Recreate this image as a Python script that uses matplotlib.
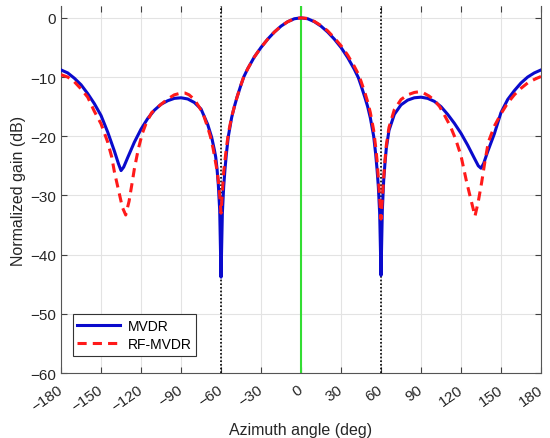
# -*- coding: utf-8 -*-
"""
MVDR vs RF-MVDR beampattern (normalized gain vs azimuth)
"""
import matplotlib
matplotlib.use("Agg")
import matplotlib.pyplot as plt

# ==============================================================================
# Data
# ==============================================================================
mvdr_angle = [-180, -175, -170, -165, -160, -155, -150, -145, -140, -137, -135, -133,
              -130, -125, -120, -115, -110, -105, -100, -95, -90, -85, -80, -75,
              -70, -67, -65, -64, -63, -62, -61, -60, -59, -58, -57, -56, -54.5,
              -52, -50, -48, -45, -43, -40, -35, -30, -25, -20, -15, -10, -5, 0,
              5, 10, 15, 20, 25, 30, 35, 40, 43, 45, 48, 50, 52, 54.5, 56, 57,
              58, 59, 60, 61, 62, 63, 64, 66, 70, 75, 80, 85, 90, 95, 100, 105,
              110, 115, 120, 125, 130, 133, 135, 137, 140, 145, 150, 155, 160,
              165, 170, 175, 180]
mvdr_gain = [-8.8, -9.3, -10.2, -11.3, -12.8, -14.5, -16.5, -19.3, -22.5, -24.6, -25.8, -25.2,
             -23.6, -21.0, -18.8, -17.0, -15.6, -14.6, -14.0, -13.6, -13.5, -13.7, -14.3, -15.4,
             -18.0, -20.2, -22.3, -23.5, -25.5, -28.3, -32.5, -43.8, -33.0, -28.5, -25.5, -23.0, -20.0,
             -16.8, -15.0, -13.4, -11.3, -10.0, -8.6, -6.6, -5.0, -3.6, -2.4, -1.4, -0.65, -0.15, 0.0,
             -0.15, -0.65, -1.4, -2.4, -3.6, -5.0, -6.7, -8.7, -10.1, -11.4, -13.5, -15.0, -16.9, -20.0, -23.0, -25.5,
             -28.5, -33.0, -43.5, -32.5, -27.5, -24.5, -22.0, -19.0, -16.3, -14.7, -13.9, -13.5, -13.4, -13.6, -14.1, -15.0,
             -16.3, -17.8, -19.5, -21.5, -23.7, -25.0, -25.4, -24.6, -22.6, -19.6, -16.0, -13.8, -12.3,
             -11.0, -10.0, -9.3, -8.8]

rf_angle = [-180, -175, -170, -165, -160, -155, -150, -145, -142, -140, -137, -134,
            -131.5, -129, -127, -125, -122, -119, -116, -112, -106, -100, -95, -90,
            -87, -84, -80, -76, -73, -70, -68, -66, -64, -63, -62, -61, -60, -59,
            -58, -57, -56, -54.5, -52, -50, -48, -45, -43, -40, -35, -30, -25, -20,
            -15, -10, -5, 0, 5, 10, 15, 20, 25, 30, 35, 40, 43, 45, 48, 50, 52,
            54.5, 56, 57, 58, 59, 60, 61, 62, 63, 64, 66, 70, 75, 80, 85, 88, 92,
            96, 100, 104, 108, 112, 116, 120, 124, 127, 130.5, 133, 135.5, 138,
            140.5, 145, 150, 155, 160, 165, 170, 175, 180]
rf_gain = [-9.6, -10.0, -10.8, -12.0, -13.4, -15.8, -17.9, -21.0, -23.5, -26.0, -29.0, -32.0,
           -33.3, -31.0, -28.3, -25.5, -22.1, -19.5, -17.7, -16.0, -14.8, -13.7, -13.0, -12.7,
           -12.7, -13.0, -13.8, -15.2, -16.5, -18.5, -20.0, -22.0, -24.5, -25.8, -27.5, -30.0, -33.0, -29.5,
           -26.0, -24.0, -22.0, -19.5, -16.7, -15.0, -13.4, -11.3, -10.0, -8.6, -6.6, -5.0, -3.6, -2.4,
           -1.4, -0.65, -0.15, 0.0, -0.1, -0.6, -1.3, -2.2, -3.4, -4.7, -6.3, -8.2, -9.5, -10.7, -12.7, -14.2, -16.0,
           -19.0, -21.8, -24.0, -27.0, -30.5, -34.0, -30.5, -27.0, -24.0, -21.5, -18.5, -15.5, -13.8, -13.0, -12.6, -12.5, -12.7,
           -13.2, -13.9, -15.0, -16.6, -18.3, -20.5, -23.3, -27.5, -30.3, -33.5, -31.0, -27.8, -24.2,
           -21.0, -18.3, -16.2, -14.4, -13.0, -11.9, -11.0, -10.4, -9.9]

target_angle = [0]
null_angles = [-60, 60]

x_ticks = list(range(-180, 181, 30))
y_ticks = list(range(-60, 1, 10))

# ==============================================================================
# Plot
# ==============================================================================
plt.rcParams['font.family'] = ['Liberation Sans', 'DejaVu Sans']
plt.rcParams['axes.unicode_minus'] = True

fig = plt.figure(figsize=(5.5, 4.39), dpi=100)
ax = fig.add_axes([0.111, 0.148, 0.8726, 0.836])

for a in null_angles:
    ax.axvline(a, color='black', linestyle=(0, (1, 1.2)), linewidth=1.2, zorder=2)
for a in target_angle:
    ax.axvline(a, color='#33dd33', linewidth=1.5, zorder=2)

ax.plot(mvdr_angle, mvdr_gain, color='#0a0acc', linewidth=2.2, label='MVDR', zorder=3)
ax.plot(rf_angle, rf_gain, color='#ff1a1a', linewidth=2.2, linestyle=(0, (3.0, 2.0)),
        label='RF-MVDR', zorder=4)

ax.set_xlim(-180, 180)
ax.set_ylim(-60, 2)
ax.set_xticks(x_ticks)
ax.set_yticks(y_ticks)
ax.set_xticklabels([str(t).replace('-', '\u2212') for t in x_ticks],
                   rotation=35, ha='right', va='center', rotation_mode='anchor')
ax.grid(True, color='#e3e3e3', linewidth=0.8)
ax.set_axisbelow(True)

ax.tick_params(axis='both', labelsize=11, colors='#404040', labelcolor='#262626',
               direction='in', length=4, top=True, right=True)
ax.tick_params(axis='x', pad=11)
for side in ['left', 'bottom', 'right']:
    ax.spines[side].set_color('#555555')
ax.spines['top'].set_visible(False)

ax.set_xlabel('Azimuth angle (deg)', fontsize=11.5, color='#262626', labelpad=6)
ax.set_ylabel('Normalized gain (dB)', fontsize=11.5, color='#262626', labelpad=3)

leg = ax.legend(loc='lower left', bbox_to_anchor=(0.024, 0.046), borderaxespad=0,
                fontsize=10, handlelength=3.1, fancybox=False, framealpha=1,
                edgecolor='#333333', borderpad=0.35, labelspacing=0.3, handletextpad=0.5)
leg.get_frame().set_linewidth(0.8)

fig.savefig('out.png', dpi=100)
